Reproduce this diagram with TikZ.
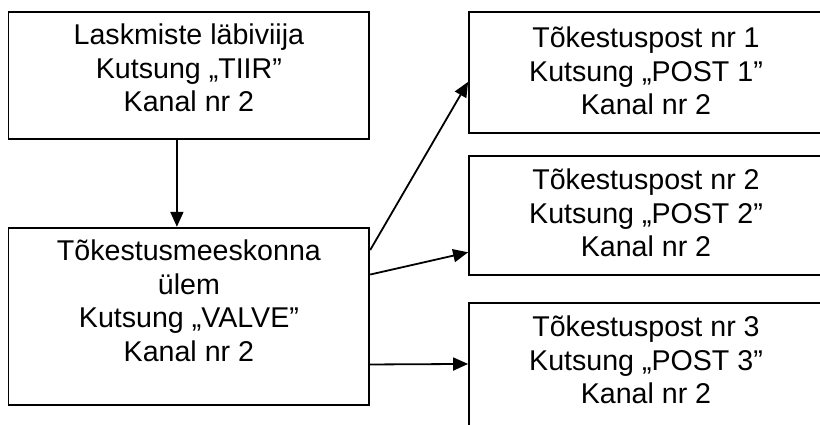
\documentclass[tikz,border=0pt]{standalone}
\usepackage{fontspec}
\setmainfont{Liberation Sans}
\usetikzlibrary{arrows.meta,calc}
\begin{document}
\begin{tikzpicture}[x=1pt,y=-1pt,
  box/.style={draw,line width=1.8pt,inner sep=0pt},
  txt/.style={font=\fontsize{28.6}{33.4}\selectfont,align=center,inner sep=0pt,anchor=north,execute at begin node=\strut},
  arr/.style={line width=1.8pt,-{Triangle[length=15pt,width=13pt]}}]
\useasboundingbox (0,0) rectangle (820,425);
\clip (0,0) rectangle (820,425);
% boxes
\node[box,minimum width=360.8pt,minimum height=127.3pt] (lead) at (188.9,75.35) {};
\node[box,minimum width=360.8pt,minimum height=177pt] (tv) at (188.9,316.2) {};
\node[box,minimum width=354pt,minimum height=121.6pt] (p1) at (646,72.5) {};
\node[box,minimum width=354pt,minimum height=119.3pt] (p2) at (646,215.35) {};
\node[box,minimum width=354pt,minimum height=126.7pt] (p3) at (646,366.65) {};
% texts
\node[txt] (leadt) at ($(lead.north)+(0,13.2)$) {Laskmiste läbiviija\\Kutsung „TIIR”\\Kanal nr 2};
\node[txt] (tvt) at ($(tv.north)+(0,13.2)$) {Tõkestusmeeskonna\\ülem\\Kutsung „VALVE”\\Kanal nr 2};
\node[txt] (p1t) at ($(p1.north)+(0,15.9)$) {Tõkestuspost nr 1\\Kutsung „POST 1”\\Kanal nr 2};
\node[txt] (p2t) at ($(p2.north)+(0,14.2)$) {Tõkestuspost nr 2\\Kutsung „POST 2”\\Kanal nr 2};
\node[txt] (p3t) at ($(p3.north)+(0,13.3)$) {Tõkestuspost nr 3\\Kutsung „POST 3”\\Kanal nr 2};
% connectors
\draw[arr] ($(lead.south)+(-12,0)$) -- ($(tv.north)+(-12,0)$);
\draw[arr] ($(tv.north east)!0.13!(tv.south east)$) -- ($(p1.north west)!0.576!(p1.south west)$);
\draw[arr] ($(tv.north east)!0.267!(tv.south east)$) -- ($(p2.north west)!0.805!(p2.south west)$);
\draw[arr] ($(tv.north east)!0.77!(tv.south east)$) -- ($(p3.north west)!0.479!(p3.south west)$);
\end{tikzpicture}
\end{document}
